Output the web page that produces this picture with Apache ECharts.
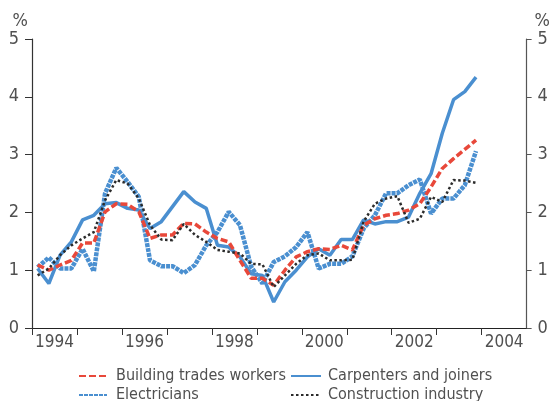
<!DOCTYPE html>
<html>
<head>
<meta charset="utf-8">
<script src="https://cdn.jsdelivr.net/npm/echarts@6/dist/echarts.min.js"></script>
<style>
  html, body { margin: 0; padding: 0; background: #fff; }
  #chart { width: 553px; height: 401px; }
</style>
</head>
<body>
<div id="chart"></div>
<script>
// Quarterly wage growth, 1994 Q1 – 2003 Q4 (per cent)
const quarters = [];
for (let y = 1994; y <= 2003; y++) {
  for (let q = 1; q <= 4; q++) quarters.push(y + 'Q' + q);
}

const buildingTrades = [
  1.09, 1.00, 1.09, 1.17, 1.47, 1.47, 2.01, 2.15,
  2.14, 2.01, 1.55, 1.61, 1.61, 1.81, 1.80, 1.66,
  1.55, 1.49, 1.17, 0.86, 0.86, 0.74, 1.00, 1.23,
  1.32, 1.37, 1.36, 1.43, 1.35, 1.78, 1.89, 1.95,
  1.98, 2.04, 2.15, 2.44, 2.76, 2.93, 3.09, 3.25
];
const carpenters = [
  1.03, 0.77, 1.26, 1.49, 1.87, 1.95, 2.15, 2.17,
  2.07, 2.04, 1.72, 1.84, 2.10, 2.36, 2.18, 2.07,
  1.43, 1.40, 1.23, 0.94, 0.91, 0.45, 0.80, 1.00,
  1.23, 1.37, 1.26, 1.53, 1.53, 1.87, 1.80, 1.84,
  1.84, 1.92, 2.33, 2.67, 3.37, 3.95, 4.09, 4.34
];
const electricians = [
  1.05, 1.22, 1.03, 1.03, 1.37, 0.98, 2.33, 2.77,
  2.53, 2.27, 1.17, 1.07, 1.07, 0.95, 1.09, 1.43,
  1.66, 2.01, 1.78, 1.06, 0.77, 1.14, 1.24, 1.40,
  1.66, 1.03, 1.11, 1.11, 1.24, 1.72, 1.95, 2.33,
  2.33, 2.47, 2.57, 1.98, 2.24, 2.24, 2.47, 3.06
];
const construction = [
  0.91, 1.03, 1.26, 1.43, 1.55, 1.66, 2.21, 2.56,
  2.50, 2.24, 1.78, 1.53, 1.52, 1.80, 1.61, 1.49,
  1.35, 1.32, 1.29, 1.11, 1.10, 0.71, 0.91, 1.11,
  1.26, 1.29, 1.17, 1.17, 1.18, 1.84, 2.15, 2.24,
  2.28, 1.82, 1.89, 2.27, 2.18, 2.56, 2.55, 2.51
];

const yTicks = [0, 1, 2, 3, 4, 5];
const yearTicks = [1994, 1996, 1998, 2000, 2002, 2004];

// place each quarter at its mid-point within the year
function toPoints(values) {
  return values.map((v, i) => {
    const year = parseInt(quarters[i].slice(0, 4), 10);
    const q = parseInt(quarters[i].slice(5), 10);
    return [year + (q - 0.5) / 4, v];
  });
}

const FONT = '"Liberation Sans Narrow", "DejaVu Sans Condensed", "Liberation Sans", sans-serif';
const TEXT = '#505050';
const BLUE = '#4a8fd0';
const RED = '#e8483a';
const DARK = '#2b2b2b';

const chart = echarts.init(document.getElementById('chart'), null, { renderer: 'canvas' });

const yAxisBase = {
  type: 'value',
  min: 0, max: 5, interval: 1,
  name: '%',
  nameLocation: 'end',
  splitLine: { show: false },
  axisLabel: {
    fontFamily: FONT, fontSize: 18, color: TEXT,
    formatter: v => (yTicks.indexOf(v) >= 0 ? String(v) : '')
  }
};

// one legend per entry so the two columns line up
function legendItem(name, left, top, width, gap) {
  return {
    orient: 'horizontal', left: left, top: top,
    itemWidth: width, itemHeight: 14,
    data: [name],
    itemStyle: { opacity: 0 },
    textStyle: { fontFamily: FONT, fontSize: 16, color: TEXT, lineHeight: 18, padding: [0, 0, 0, gap] }
  };
}

chart.setOption({
  animation: false,
  backgroundColor: '#fff',
  grid: { left: 32, right: 25, top: 39, bottom: 73, containLabel: false },
  xAxis: {
    type: 'value',
    min: 1994, max: 2005, interval: 1,
    splitLine: { show: false },
    axisLine: { lineStyle: { color: '#222', width: 1.2 } },
    axisTick: { show: true, length: 7, lineStyle: { color: '#333' } },
    axisLabel: {
      fontFamily: FONT, fontSize: 17, color: TEXT, margin: 6,
      padding: [0, 0, 0, 45],
      showMaxLabel: false,
      formatter: v => (yearTicks.indexOf(v) >= 0 ? String(v) : '')
    }
  },
  yAxis: [
    Object.assign({}, yAxisBase, {
      position: 'left',
      nameGap: 8,
      nameTextStyle: { fontFamily: FONT, fontSize: 18, color: TEXT, align: 'right', padding: [0, 4, 0, 0] },
      axisLine: { show: true, lineStyle: { color: '#333', width: 1.2 } },
      axisTick: { show: true, length: 7, lineStyle: { color: '#333' } },
      axisLabel: Object.assign({}, yAxisBase.axisLabel, { margin: 13 })
    }),
    Object.assign({}, yAxisBase, {
      position: 'right',
      nameGap: 8,
      nameTextStyle: { fontFamily: FONT, fontSize: 18, color: TEXT, align: 'left', padding: [0, 0, 0, 8] },
      axisLine: { show: true, lineStyle: { color: '#555', width: 1.2 } },
      axisTick: { show: true, length: 5, lineStyle: { color: '#555' } },
      axisLabel: Object.assign({}, yAxisBase.axisLabel, { margin: 11 })
    })
  ],
  legend: [
    legendItem('Building trades workers', 73, 362, 28, 4),
    legendItem('Electricians', 73, 381, 28, 4),
    legendItem('Carpenters and joiners', 285, 362, 30, 2),
    legendItem('Construction industry', 285, 381, 30, 2)
  ],
  series: [
    {
      name: 'Electricians', type: 'line', data: toPoints(electricians),
      symbol: 'none', color: BLUE, z: 2,
      lineStyle: { color: BLUE, width: 4.5, type: [4, 1] }
    },
    {
      name: 'Carpenters and joiners', type: 'line', data: toPoints(carpenters),
      symbol: 'none', color: BLUE, z: 3,
      lineStyle: { color: BLUE, width: 3.5, type: 'solid' }
    },
    {
      name: 'Building trades workers', type: 'line', data: toPoints(buildingTrades),
      symbol: 'none', color: RED, z: 4,
      lineStyle: { color: RED, width: 3.5, type: [7, 3] }
    },
    {
      name: 'Construction industry', type: 'line', data: toPoints(construction),
      symbol: 'none', color: DARK, z: 5,
      lineStyle: { color: DARK, width: 2.5, type: [2.5, 2.5] }
    }
  ]
});
</script>
</body>
</html>
